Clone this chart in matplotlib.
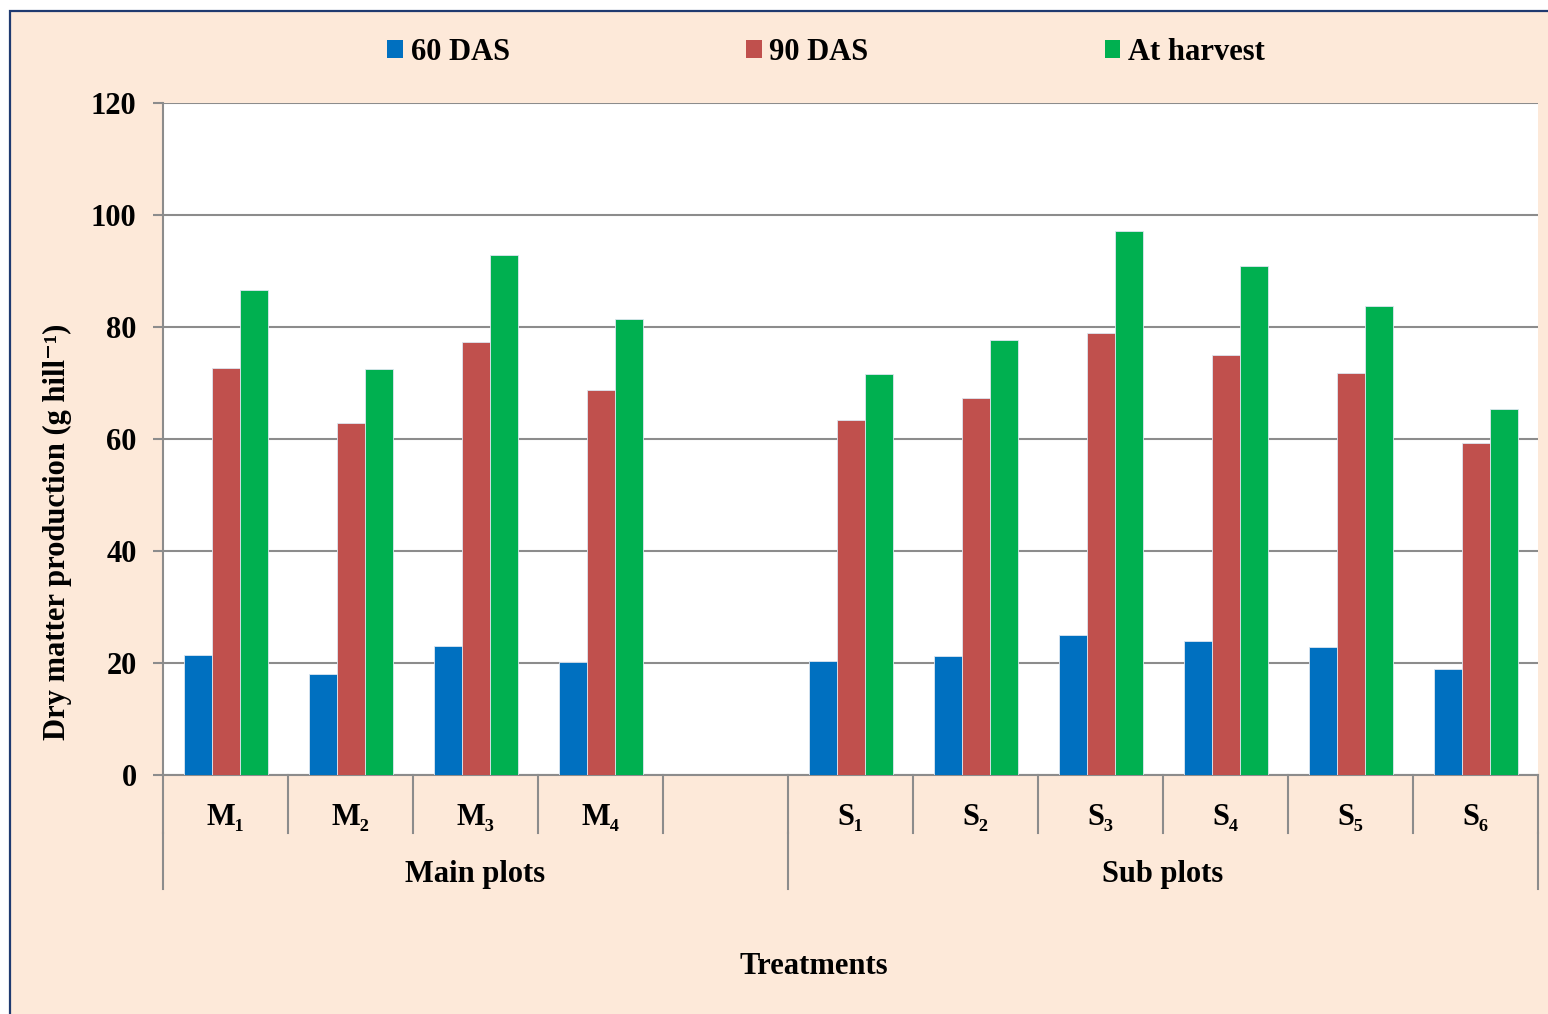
import matplotlib
matplotlib.use("Agg")
import matplotlib.pyplot as plt
from matplotlib.patches import Rectangle
from matplotlib.lines import Line2D
import matplotlib.transforms as mtransforms
import numpy as np

# ---- data ----
main_labels = ["M\u2081", "M\u2082", "M\u2083", "M\u2084"]
sub_labels = ["S\u2081", "S\u2082", "S\u2083", "S\u2084", "S\u2085", "S\u2086"]
group_names = ["Main plots", "Sub plots"]
series_names = ["60 DAS", "90 DAS", "At harvest"]
das60 = [21.4, 18.0, 23.0, 20.2, 20.4, 21.2, 25.0, 23.9, 22.9, 18.9]
das90 = [72.7, 62.9, 77.3, 68.8, 63.4, 67.3, 78.9, 75.0, 71.8, 59.3]
harvest = [86.6, 72.5, 92.9, 81.4, 71.6, 77.7, 97.1, 90.9, 83.8, 65.4]
yticks = [0, 20, 40, 60, 80, 100, 120]

colors = ["#0070C0", "#C0504D", "#00B050"]
bg = "#FDE9D9"
gridc = "#8C8C8C"

plt.rcParams['font.family'] = ['Liberation Serif', 'DejaVu Serif']
plt.rcParams['font.weight'] = 'bold'

W, H = 1548, 1014
fig = plt.figure(figsize=(W / 100, H / 100), dpi=100)
fig.patch.set_facecolor("white")
fig.patches.append(Rectangle((10 / W, -0.05), 1.2, 1 - 11 / H + 0.05,
                             transform=fig.transFigure, facecolor=bg,
                             edgecolor="#1F3A70", linewidth=1.6, zorder=-10))

ax = fig.add_axes([163 / W, 1 - 775 / H, (1538 - 163) / W, (775 - 103) / H])
ax.set_facecolor("white")

n_main = len(main_labels)
slots = list(range(n_main)) + [n_main + 1 + i for i in range(len(sub_labels))]
slots = np.array(slots, dtype=float)
nslots = n_main + 1 + len(sub_labels)
bw = 0.224
for k, (vals, c) in enumerate(zip([das60, das90, harvest], colors)):
    ax.bar(slots + (k - 1) * bw, vals, width=bw, color=c, edgecolor="#DDE6F0",
           linewidth=0.6, zorder=3, label=series_names[k])

ax.set_xlim(-0.5, nslots - 0.5)
ax.set_ylim(0, 120)
ax.set_yticks(yticks)
ax.set_yticklabels([str(t) for t in yticks], fontsize=22, fontweight='bold')
ax.tick_params(axis='y', length=7, width=1.5, color=gridc, pad=12)
ax.set_xticks([])
ax.grid(axis='y', color=gridc, linewidth=1.5, zorder=0)
for s in ["top", "right"]:
    ax.spines[s].set_visible(False)
for s in ["left", "bottom"]:
    ax.spines[s].set_color(gridc)
    ax.spines[s].set_linewidth(1.5)

trans = mtransforms.blended_transform_factory(ax.transData, ax.transAxes)
# category separators
for b in range(nslots + 1):
    x = b - 0.5
    ax.add_line(Line2D([x, x], [0, -0.0863], transform=trans, color=gridc,
                       linewidth=1.5, clip_on=False))
# group separators
for x in [-0.5, n_main + 0.5, nslots - 0.5]:
    ax.add_line(Line2D([x, x], [-0.0863, -0.1696], transform=trans, color=gridc,
                       linewidth=1.5, clip_on=False))
# category labels
for lab, x in zip(main_labels + sub_labels, slots):
    ax.text(x, -0.0635, lab, transform=trans, ha='center', va='center',
            fontsize=22, fontweight='bold')
ax.text((-0.5 + n_main + 0.5) / 2, -0.1475, group_names[0], transform=trans,
        ha='center', va='center', fontsize=22, fontweight='bold')
ax.text((n_main + 0.5 + nslots - 0.5) / 2, -0.1475, group_names[1], transform=trans,
        ha='center', va='center', fontsize=22, fontweight='bold')

fig.text(814 / W, 1 - 966 / H, "Treatments", ha='center', va='center',
         fontsize=22, fontweight='bold')
fig.text(57 / W, 1 - 532 / H, "Dry matter production (g hill\u207b\u00b9)",
         rotation=90, ha='center', va='center', fontsize=22, fontweight='bold')

handles = [Rectangle((0, 0), 1, 1, facecolor=c, edgecolor='none') for c in colors]
fig.legend(handles, series_names, loc='center', bbox_to_anchor=(826 / W, 1 - 52 / H),
           ncol=3, frameon=False, fontsize=22, handlelength=0.52, handleheight=0.52,
           handletextpad=0.25, columnspacing=7.73, prop={'weight': 'bold', 'size': 22})

fig.savefig("out.png", dpi=100, facecolor=fig.get_facecolor())
